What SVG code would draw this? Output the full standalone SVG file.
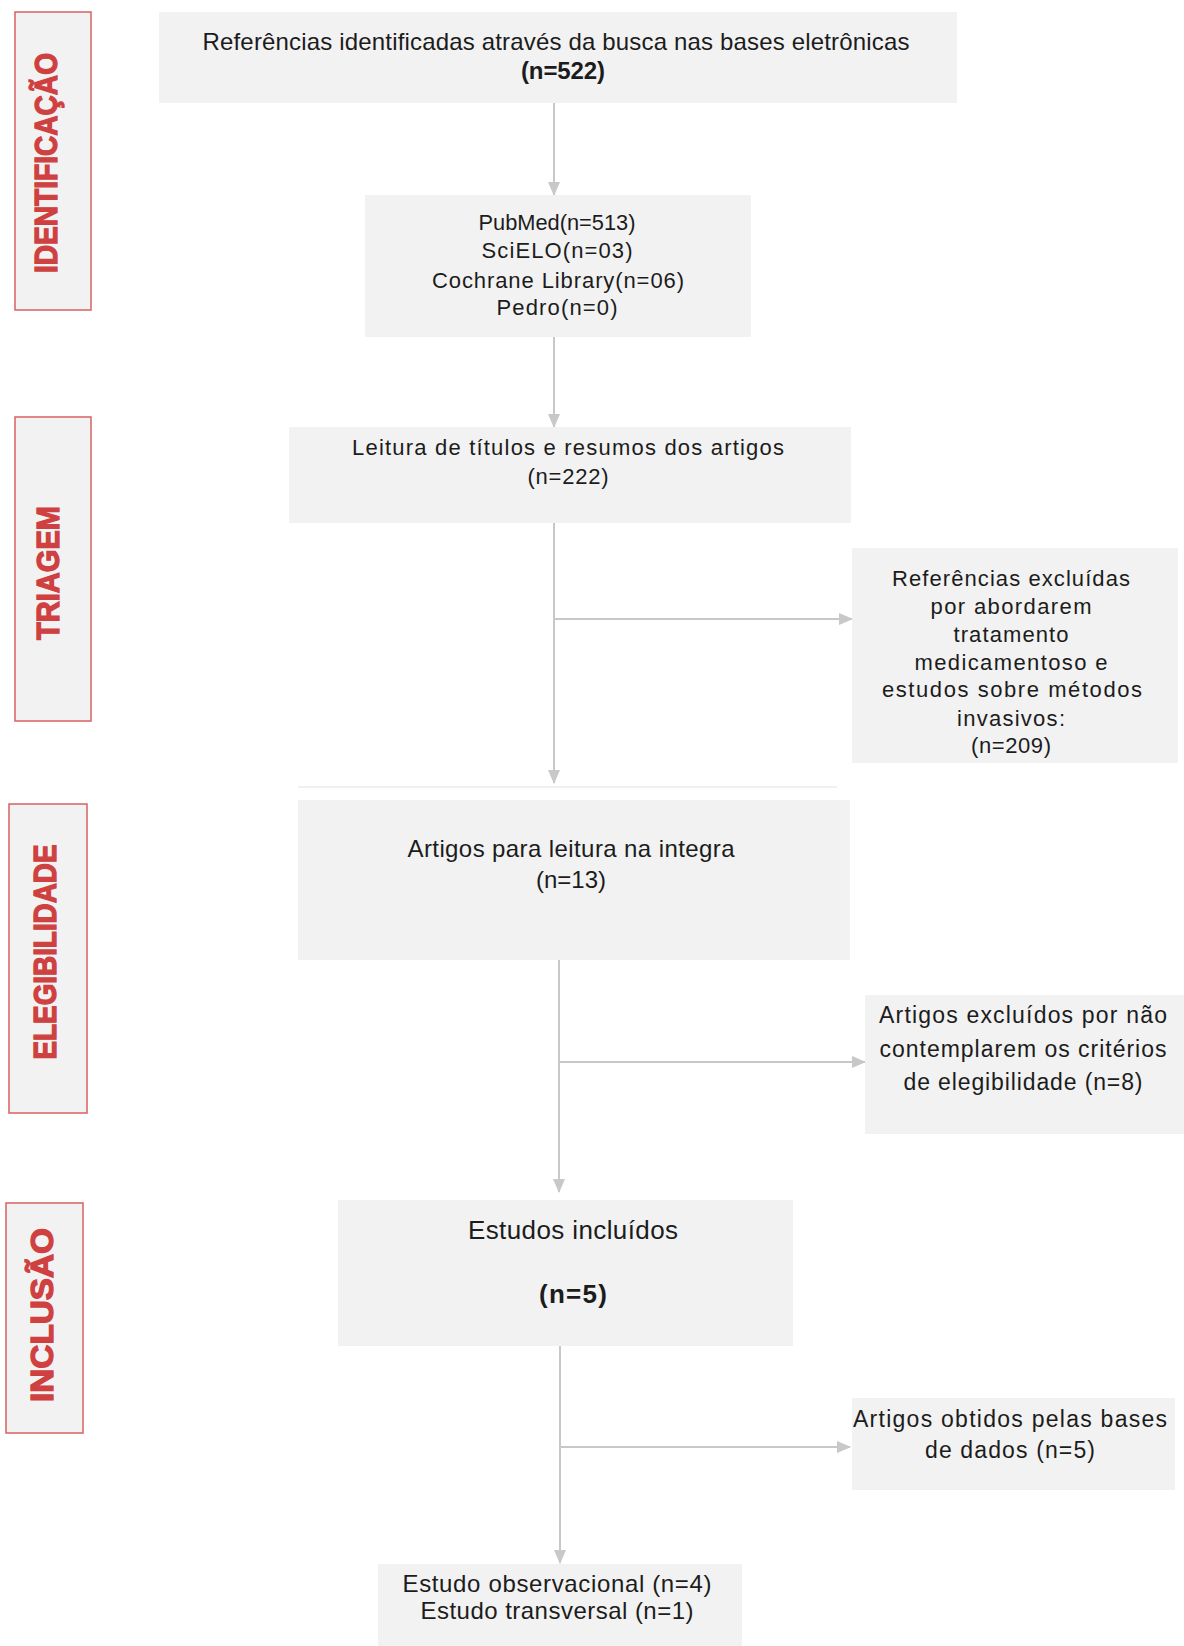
<svg xmlns="http://www.w3.org/2000/svg" width="1184" height="1646" viewBox="0 0 1184 1646">
<style>
.box{fill:#f2f2f2;}
.lab{fill:#f2f2f2;stroke:#d96a6a;stroke-width:1.6;}
.lt{font-family:"Liberation Sans",Arial,sans-serif;font-weight:bold;font-size:32px;fill:#cf4040;stroke:#cf4040;stroke-width:1.3;text-anchor:middle;}
.t{font-family:"Liberation Sans",Arial,sans-serif;fill:#1c1c1c;text-anchor:middle;}
.b{font-weight:bold;}
.c{stroke:#c8c8c8;stroke-width:2;fill:none;}
</style>
<defs>
<marker id="ah" markerWidth="14" markerHeight="14" refX="13" refY="7" orient="auto" markerUnits="userSpaceOnUse">
<path d="M0,1 L14,7 L0,13 Z" fill="#c8c8c8"/>
</marker>
</defs>
<rect width="1184" height="1646" fill="#ffffff"/>

<g id="label-identificacao">
<rect class="lab" x="15" y="12" width="76" height="298"/>
<text class="lt" transform="translate(57,163) rotate(-90)" textLength="220" lengthAdjust="spacingAndGlyphs">IDENTIFICAÇÃO</text>
</g>
<g id="label-triagem">
<rect class="lab" x="15" y="417" width="76" height="304"/>
<text class="lt" transform="translate(59,573) rotate(-90)" textLength="134" lengthAdjust="spacingAndGlyphs">TRIAGEM</text>
</g>
<g id="label-elegibilidade">
<rect class="lab" x="9" y="804" width="78" height="309"/>
<text class="lt" transform="translate(56,952) rotate(-90)" textLength="215" lengthAdjust="spacingAndGlyphs">ELEGIBILIDADE</text>
</g>
<g id="label-inclusao">
<rect class="lab" x="6" y="1203" width="77" height="230"/>
<text class="lt" transform="translate(53,1315) rotate(-90)" textLength="174" lengthAdjust="spacingAndGlyphs">INCLUSÃO</text>
</g>

<g id="connectors">
<line class="c" x1="554" y1="103" x2="554" y2="195" marker-end="url(#ah)"/>
<line class="c" x1="554" y1="337" x2="554" y2="427" marker-end="url(#ah)"/>
<line class="c" x1="554" y1="523" x2="554" y2="783" marker-end="url(#ah)"/>
<line class="c" x1="554" y1="619" x2="852" y2="619" marker-end="url(#ah)"/>
<line class="c" x1="559" y1="960" x2="559" y2="1192" marker-end="url(#ah)"/>
<line class="c" x1="559" y1="1062" x2="865" y2="1062" marker-end="url(#ah)"/>
<line class="c" x1="560" y1="1346" x2="560" y2="1563" marker-end="url(#ah)"/>
<line class="c" x1="560" y1="1447" x2="850" y2="1447" marker-end="url(#ah)"/>
<line x1="298" y1="787" x2="837" y2="787" stroke="#f0f0f0" stroke-width="2"/>
</g>

<g id="node-referencias">
<rect class="box" x="159" y="12" width="798" height="91"/>
<text class="t" font-size="24" x="556" y="50" textLength="707">Referências identificadas através da busca nas bases eletrônicas</text>
<text class="t b" font-size="24" x="563" y="79" textLength="84">(n=522)</text>
</g>

<g id="node-bases">
<rect class="box" x="365" y="195" width="386" height="142"/>
<text class="t" font-size="22" x="557" y="230" textLength="157" lengthAdjust="spacingAndGlyphs">PubMed(n=513)</text>
<text class="t" font-size="22" x="557" y="258" textLength="151">SciELO(n=03)</text>
<text class="t" font-size="22" x="558" y="288" textLength="252">Cochrane Library(n=06)</text>
<text class="t" font-size="22" x="557" y="315" textLength="121">Pedro(n=0)</text>
</g>

<g id="node-leitura-titulos">
<rect class="box" x="289" y="427" width="562" height="96"/>
<text class="t" font-size="22" x="568" y="455" textLength="432">Leitura de títulos e resumos dos artigos</text>
<text class="t" font-size="22" x="568" y="484" textLength="81">(n=222)</text>
</g>

<g id="node-excluidas-1">
<rect class="box" x="852" y="548" width="326" height="215"/>
<text class="t" font-size="22" x="1011" y="586" textLength="238">Referências excluídas</text>
<text class="t" font-size="22" x="1011" y="614" textLength="161">por abordarem</text>
<text class="t" font-size="22" x="1011" y="642" textLength="115">tratamento</text>
<text class="t" font-size="22" x="1011" y="670" textLength="193">medicamentoso e</text>
<text class="t" font-size="22" x="1012" y="697" textLength="260">estudos sobre métodos</text>
<text class="t" font-size="22" x="1011" y="726" textLength="108">invasivos:</text>
<text class="t" font-size="22" x="1011" y="753" textLength="80">(n=209)</text>
</g>

<g id="node-leitura-integra">
<rect class="box" x="298" y="800" width="552" height="160"/>
<text class="t" font-size="24" x="571" y="857" textLength="327">Artigos para leitura na integra</text>
<text class="t" font-size="24" x="571" y="888" textLength="70">(n=13)</text>
</g>

<g id="node-excluidos-2">
<rect class="box" x="865" y="995" width="319" height="139"/>
<text class="t" font-size="23" x="1023" y="1023" textLength="288">Artigos excluídos por não</text>
<text class="t" font-size="23" x="1023" y="1057" textLength="287">contemplarem os critérios</text>
<text class="t" font-size="23" x="1023" y="1090" textLength="239">de elegibilidade (n=8)</text>
</g>

<g id="node-incluidos">
<rect class="box" x="338" y="1200" width="455" height="146"/>
<text class="t" font-size="26" x="573" y="1239" textLength="210">Estudos incluídos</text>
<text class="t b" font-size="26" x="573" y="1303" textLength="68">(n=5)</text>
</g>

<g id="node-obtidos">
<rect class="box" x="852" y="1398" width="323" height="92"/>
<text class="t" font-size="23" x="1010" y="1427" textLength="314">Artigos obtidos pelas bases</text>
<text class="t" font-size="23" x="1010" y="1458" textLength="170">de dados (n=5)</text>
</g>

<g id="node-tipos">
<rect class="box" x="378" y="1564" width="364" height="82"/>
<text class="t" font-size="24" x="557" y="1592" textLength="309">Estudo observacional (n=4)</text>
<text class="t" font-size="24" x="557" y="1619" textLength="273">Estudo transversal (n=1)</text>
</g>
</svg>
